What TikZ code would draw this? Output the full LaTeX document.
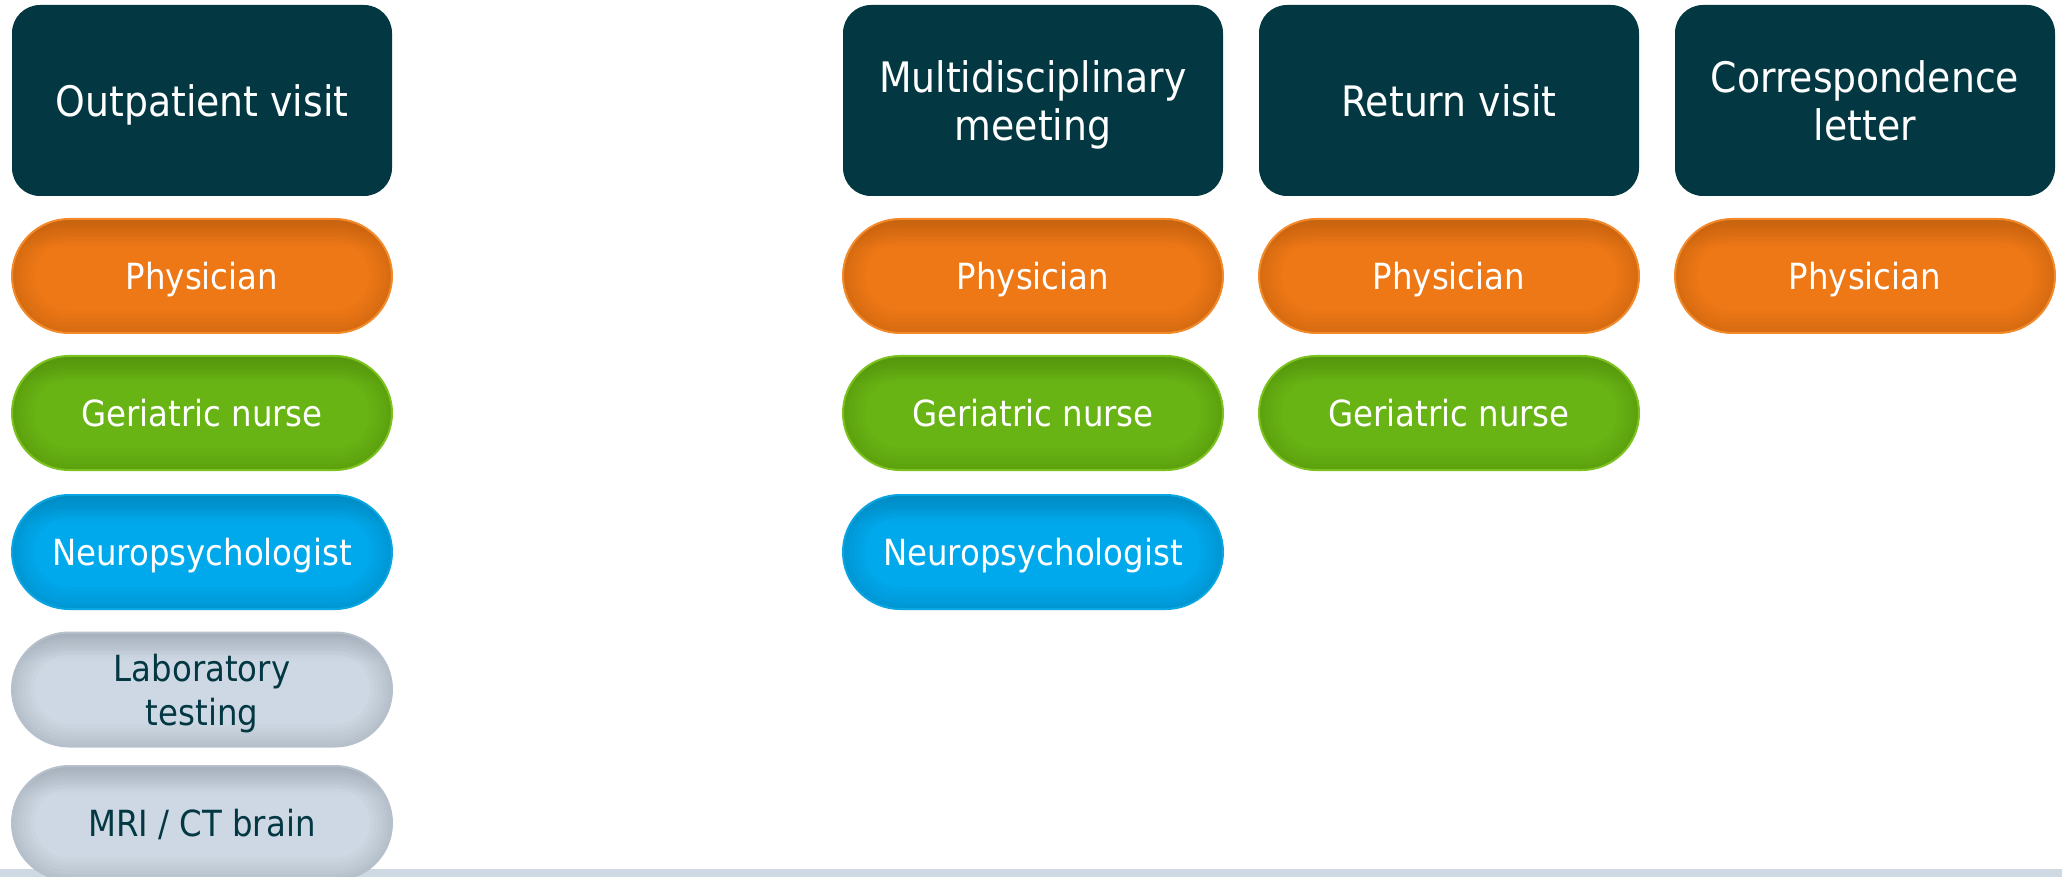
\documentclass[tikz,border=0pt]{standalone}
\usepackage{fontspec}
\newfontfamily\dfont{DejaVu Sans Condensed}
\definecolor{hdr}{HTML}{033843}
\definecolor{band}{HTML}{CFD9E3}
\definecolor{or}{HTML}{EE7716}
\definecolor{orD}{HTML}{AA560F}
\definecolor{orB}{HTML}{F28A2C}
\definecolor{gr}{HTML}{68B414}
\definecolor{grD}{HTML}{4A800E}
\definecolor{grB}{HTML}{7CC21E}
\definecolor{bl}{HTML}{00A9EC}
\definecolor{blD}{HTML}{0075A4}
\definecolor{blB}{HTML}{0AA6E2}
\definecolor{gy}{HTML}{CDD8E4}
\definecolor{gyD}{HTML}{8A949F}
\definecolor{gyB}{HTML}{B6C0CA}
\pgfdeclareverticalshading{orshade}{100bp}{color(0bp)=(or); color(62bp)=(or); color(100bp)=(orD)}
\pgfdeclareverticalshading{grshade}{100bp}{color(0bp)=(gr); color(62bp)=(gr); color(100bp)=(grD)}
\pgfdeclareverticalshading{blshade}{100bp}{color(0bp)=(bl); color(62bp)=(bl); color(100bp)=(blD)}
\pgfdeclareverticalshading{gyshade}{100bp}{color(0bp)=(gy); color(62bp)=(gy); color(100bp)=(gyD)}
\tikzset{
  hdrbox/.style={rectangle, fill=hdr, rounded corners=14pt, minimum width=190pt,
    minimum height=95.5pt, inner sep=0pt, text=white, align=center,
    text depth=0pt, font=\dfont\fontsize{21}{24}\selectfont},
  pill/.style={rectangle, rounded corners=28.5pt, minimum width=190pt,
    minimum height=57pt, inner sep=0pt, align=center, text=white, text depth=0pt,
    font=\dfont\fontsize{18}{22}\selectfont, shade, shading=#1shade,
    draw=#1B, line width=1pt,
    path picture={
      \foreach \w in {22pt,18pt,14pt,10pt,6pt,3pt}{
        \draw[#1D, opacity=0.06, line width=\w, rounded corners=28.5pt]
          (path picture bounding box.south west) rectangle
          (path picture bounding box.north east);}
    }},
}
\begin{document}
\begin{tikzpicture}[x=0.5pt,y=-0.5pt]
\useasboundingbox (0,0) rectangle (2062,877);
\clip (0,0) rectangle (2062,877);
\fill[band] (0,869) rectangle (2062,877);

% column 1
\node[hdrbox] (h1) at (202,100.5) {Outpatient visit};
\node[pill=or] (p1) at (202,276) {Physician};
\node[pill=gr] (g1) at (202,413) {Geriatric nurse};
\node[pill=bl] (n1) at (202,552) {Neuropsychologist};
\node[pill=gy, text=hdr] (l1) at (202,689.5) {Laboratory\\testing};
\node[pill=gy, text=hdr] (m1) at (202,823) {MRI / CT brain};

% column 2
\node[hdrbox] (h2) at (1033,100.5) {Multidisciplinary\\meeting};
\node[pill=or] (p2) at (1033,276) {Physician};
\node[pill=gr] (g2) at (1033,413) {Geriatric nurse};
\node[pill=bl] (n2) at (1033,552) {Neuropsychologist};

% column 3
\node[hdrbox] (h3) at (1449,100.5) {Return visit};
\node[pill=or] (p3) at (1449,276) {Physician};
\node[pill=gr] (g3) at (1449,413) {Geriatric nurse};

% column 4
\node[hdrbox] (h4) at (1865,100.5) {Correspondence\\letter};
\node[pill=or] (p4) at (1865,276) {Physician};
\end{tikzpicture}
\end{document}
